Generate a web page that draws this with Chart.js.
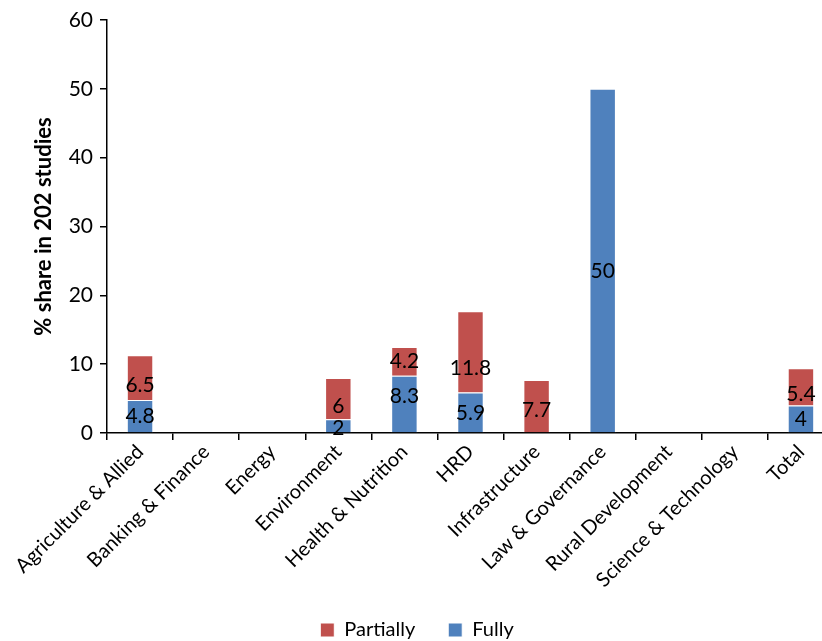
<!DOCTYPE html>
<html>
<head>
<meta charset="utf-8">
<script src="https://cdn.jsdelivr.net/npm/chart.js@4"></script>
<style>
  html, body { margin: 0; padding: 0; background: #fff; overflow: hidden; }
  #wrap { width: 834px; height: 641px; position: relative; }
</style>
</head>
<body>
<div id="wrap"><canvas id="chart"></canvas></div>
<script>
// ── Datos ────────────────────────────────────────────────────────────────
const CATEGORIES = [
  "Agriculture & Allied", "Banking & Finance", "Energy", "Environment",
  "Health & Nutrition", "HRD", "Infrastructure", "Law & Governance",
  "Rural Development", "Science & Technology", "Total",
];
const FULLY     = [4.8, 0, 0, 2, 8.3, 5.9, 0, 50, 0, 0, 4];
const PARTIALLY = [6.5, 0, 0, 6, 4.2, 11.8, 7.7, 0, 0, 0, 5.4];
const Y_TICKS   = [0, 10, 20, 30, 40, 50, 60];

const COLOR_FULLY = "#4F81BD";
const COLOR_PART = "#C0504D";
const FONT = "Lato, 'Open Sans', sans-serif";

// Etiquetas de valor dentro de cada segmento (0 = sin etiqueta)
const segmentLabels = {
  id: "segmentLabels",
  afterDatasetsDraw(chart, args, opts) {
    const ctx = chart.ctx;
    ctx.save();
    ctx.font = `21px ${FONT}`;
    ctx.fillStyle = "#000";
    ctx.textAlign = "center";
    ctx.textBaseline = "middle";
    chart.data.datasets.forEach((ds, di) => {
      const meta = chart.getDatasetMeta(di);
      const nudge = (opts.nudge && opts.nudge[di]) || [];
      meta.data.forEach((bar, i) => {
        const v = ds.data[i];
        if (!v) return;
        const y = (bar.y + bar.base) / 2 + (nudge[i] || 0);
        ctx.fillText(String(v), bar.x, y);
      });
    });
    ctx.restore();
  },
};

new Chart(document.getElementById("chart").getContext("2d"), {
  type: "bar",
  data: {
    labels: CATEGORIES,
    datasets: [
      { label: "Fully", data: FULLY, backgroundColor: COLOR_FULLY, borderColor: "#fff", borderWidth: 1 },
      { label: "Partially", data: PARTIALLY, backgroundColor: COLOR_PART, borderColor: "#fff", borderWidth: 1 },
    ],
  },
  options: {
    responsive: true,
    maintainAspectRatio: false,
    animation: false,
    layout: { padding: { top: 20, left: 0, right: 0, bottom: -9 } },
    datasets: { bar: { barPercentage: 0.4, categoryPercentage: 1 } },
    plugins: {
      legend: {
        position: "bottom",
        reverse: true,
        labels: {
          font: { family: FONT, size: 20 },
          color: "#000",
          boxWidth: 14,
          boxHeight: 14,
          padding: 33,
        },
      },
      tooltip: { enabled: false },
      segmentLabels: {
        nudge: [
          [0, 0, 0, 2, -8, 1, 0, 11, 0, 0, 0],
          [8, 0, 0, 8, 0, 16, 4, 0, 0, 0, 7],
        ],
      },
    },
    scales: {
      x: {
        stacked: true,
        afterFit: (s) => { s.height = 154; },
        border: { color: "#000", width: 1.5 },
        grid: { offset: true, drawOnChartArea: false, tickLength: 7, color: "#000", lineWidth: 1.5 },
        ticks: {
          autoSkip: false,
          maxRotation: 45,
          minRotation: 45,
          color: "#000",
          font: { family: FONT, size: 20 },
          padding: 0,
        },
      },
      y: {
        stacked: true,
        min: 0,
        max: 60,
        afterFit: (s) => { s.width = 107; },
        afterBuildTicks: (s) => { s.ticks = Y_TICKS.map((v) => ({ value: v })); },
        border: { color: "#000", width: 1.5 },
        grid: { drawOnChartArea: false, tickLength: 7, color: "#000", lineWidth: 1.5 },
        ticks: { color: "#000", font: { family: FONT, size: 21 }, padding: 7 },
        title: {
          display: true,
          text: "% share in 202 studies",
          color: "#000",
          font: { family: FONT, size: 22, weight: "bold" },
          padding: { top: 31, bottom: 0 },
        },
      },
    },
  },
  plugins: [segmentLabels],
});
</script>
</body>
</html>
